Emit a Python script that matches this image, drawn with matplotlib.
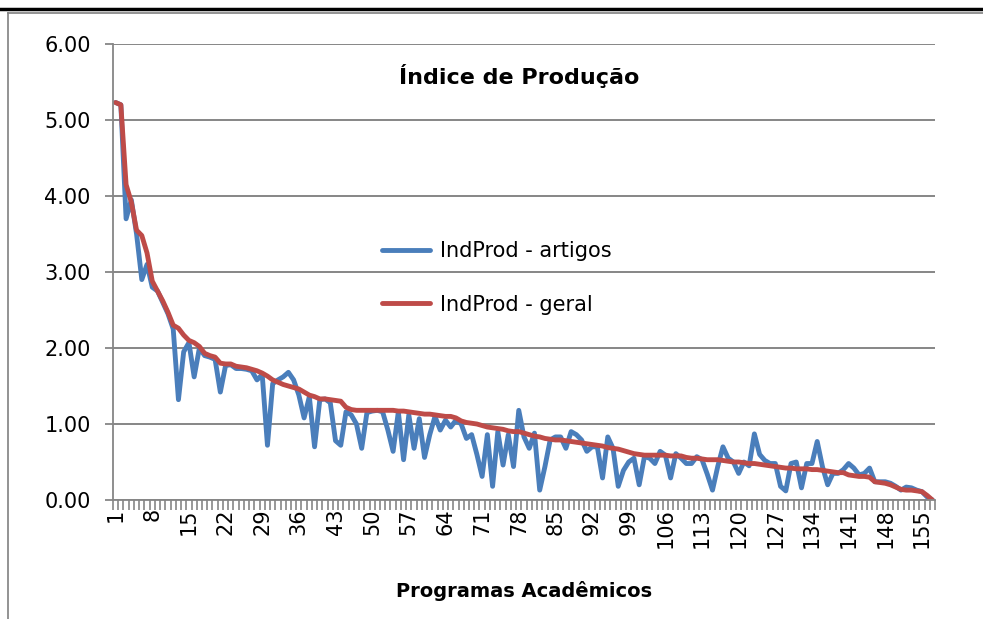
import matplotlib
matplotlib.use("Agg")
import matplotlib.pyplot as plt
from matplotlib.lines import Line2D
from matplotlib.ticker import FixedLocator, FormatStrFormatter

# 157 programas, ordenados pelo indice geral
programas = list(range(1, 158))

artigos = [5.23, 5.20, 3.70, 3.95, 3.50, 2.90, 3.10, 2.80, 2.75, 2.60,
           2.45, 2.25, 1.32, 1.95, 2.07, 1.62, 2.00, 1.90, 1.88, 1.85,
           1.42, 1.77, 1.78, 1.73, 1.73, 1.72, 1.70, 1.58, 1.65, 0.72,
           1.53, 1.58, 1.62, 1.68, 1.58, 1.38, 1.08, 1.36, 0.70, 1.32,
           1.33, 1.28, 0.78, 0.72, 1.16, 1.12, 1.00, 0.68, 1.15, 1.17,
           1.18, 1.16, 0.92, 0.64, 1.16, 0.53, 1.12, 0.68, 1.07, 0.56,
           0.86, 1.10, 0.92, 1.05, 0.96, 1.05, 1.00, 0.81, 0.86, 0.60,
           0.31, 0.86, 0.18, 0.90, 0.46, 0.86, 0.44, 1.18, 0.83, 0.68,
           0.88, 0.13, 0.44, 0.79, 0.83, 0.83, 0.68, 0.90, 0.86, 0.79,
           0.64, 0.70, 0.70, 0.29, 0.83, 0.68, 0.18, 0.39, 0.50, 0.55,
           0.20, 0.57, 0.55, 0.48, 0.64, 0.59, 0.29, 0.61, 0.55, 0.48,
           0.48, 0.57, 0.53, 0.34, 0.13, 0.44, 0.70, 0.55, 0.50, 0.35,
           0.50, 0.45, 0.87, 0.60, 0.52, 0.48, 0.48, 0.18, 0.12, 0.48,
           0.50, 0.16, 0.48, 0.48, 0.77, 0.44, 0.20, 0.35, 0.35, 0.40,
           0.48, 0.42, 0.33, 0.35, 0.42, 0.24, 0.24, 0.24, 0.22, 0.18,
           0.13, 0.17, 0.16, 0.13, 0.11, 0.04, 0.00]

geral = [5.23, 5.20, 4.15, 3.92, 3.55, 3.48, 3.25, 2.88, 2.75, 2.62,
         2.47, 2.30, 2.26, 2.17, 2.10, 2.07, 2.02, 1.93, 1.90, 1.88,
         1.80, 1.79, 1.79, 1.76, 1.75, 1.74, 1.72, 1.70, 1.67, 1.63,
         1.58, 1.55, 1.52, 1.50, 1.48, 1.46, 1.42, 1.38, 1.36, 1.33,
         1.33, 1.32, 1.31, 1.30, 1.22, 1.19, 1.18, 1.18, 1.18, 1.18,
         1.18, 1.18, 1.18, 1.18, 1.17, 1.17, 1.16, 1.15, 1.14, 1.13,
         1.13, 1.12, 1.11, 1.10, 1.10, 1.08, 1.04, 1.02, 1.01, 1.00,
         0.98, 0.96, 0.95, 0.94, 0.93, 0.91, 0.90, 0.90, 0.88, 0.86,
         0.84, 0.83, 0.81, 0.80, 0.79, 0.79, 0.78, 0.77, 0.76, 0.75,
         0.74, 0.73, 0.72, 0.71, 0.69, 0.68, 0.67, 0.65, 0.63, 0.61,
         0.60, 0.59, 0.59, 0.59, 0.59, 0.59, 0.58, 0.58, 0.58, 0.56,
         0.55, 0.55, 0.54, 0.53, 0.53, 0.53, 0.52, 0.51, 0.50, 0.50,
         0.49, 0.48, 0.48, 0.47, 0.46, 0.45, 0.44, 0.43, 0.42, 0.42,
         0.41, 0.41, 0.41, 0.40, 0.40, 0.39, 0.38, 0.37, 0.36, 0.36,
         0.33, 0.32, 0.31, 0.31, 0.30, 0.24, 0.23, 0.22, 0.20, 0.17,
         0.14, 0.13, 0.13, 0.12, 0.11, 0.06, 0.00]

y_ticks = [0, 1, 2, 3, 4, 5, 6]
x_labels = programas[::7]  # 1, 8, 15 ... 155

GRAY = "#868686"
BLUE = "#4A7EBB"
RED = "#BE4B48"

fig = plt.figure(figsize=(9.83, 6.19), dpi=100)
ax = fig.add_axes([113 / 983, 1 - 500 / 619, 822 / 983, 456 / 619])

ax.plot(programas, artigos, color=BLUE, lw=3.5, label="IndProd - artigos",
        solid_joinstyle="round", solid_capstyle="round")
ax.plot(programas, geral, color=RED, lw=3.5, label="IndProd - geral",
        solid_joinstyle="round", solid_capstyle="round")

ax.set_xlim(0.5, len(programas) + 0.5)
ax.set_ylim(0, 6)

# eixo y
ax.set_yticks(y_ticks)
ax.yaxis.set_major_formatter(FormatStrFormatter("%.2f"))
ax.tick_params(axis="y", length=6, width=1.3, color=GRAY, pad=10, labelsize=15)
ax.yaxis.grid(True, color=GRAY, lw=1.4)
ax.set_axisbelow(True)

# eixo x: marcas entre categorias, rotulos a cada 7
ax.set_xticks(x_labels)
ax.set_xticklabels([str(v) for v in x_labels], rotation=90, fontsize=15)
ax.xaxis.set_minor_locator(FixedLocator([i + 0.5 for i in range(len(programas) + 1)]))
ax.tick_params(axis="x", which="major", length=0, pad=6)
ax.tick_params(axis="x", which="minor", length=7, width=1.2, color=GRAY)

for s in ["top", "right"]:
    ax.spines[s].set_visible(False)
for s in ["left", "bottom"]:
    ax.spines[s].set_color(GRAY)
    ax.spines[s].set_linewidth(1.3)

ax.text(0.494, 0.93, "Índice de Produção", transform=ax.transAxes,
        ha="center", va="center", fontsize=16, fontweight="bold")

ax.legend(loc="center", bbox_to_anchor=(0.467, 0.487), frameon=False,
          fontsize=15, handlelength=2.3, handletextpad=0.5, labelspacing=1.6)

fig.text(524 / 983, 1 - 591 / 619, "Programas Acadêmicos", ha="center", va="center",
         fontsize=14, fontweight="bold")

# moldura do grafico
fig.add_artist(Line2D([0, 1], [1 - 9 / 619] * 2, color="black", lw=2.5))
fig.add_artist(Line2D([8 / 983, 1], [1 - 13 / 619] * 2, color="#808080", lw=1.2))
fig.add_artist(Line2D([8 / 983] * 2, [0, 1 - 13 / 619], color="#808080", lw=1.2))

fig.savefig("out.png", dpi=100)
